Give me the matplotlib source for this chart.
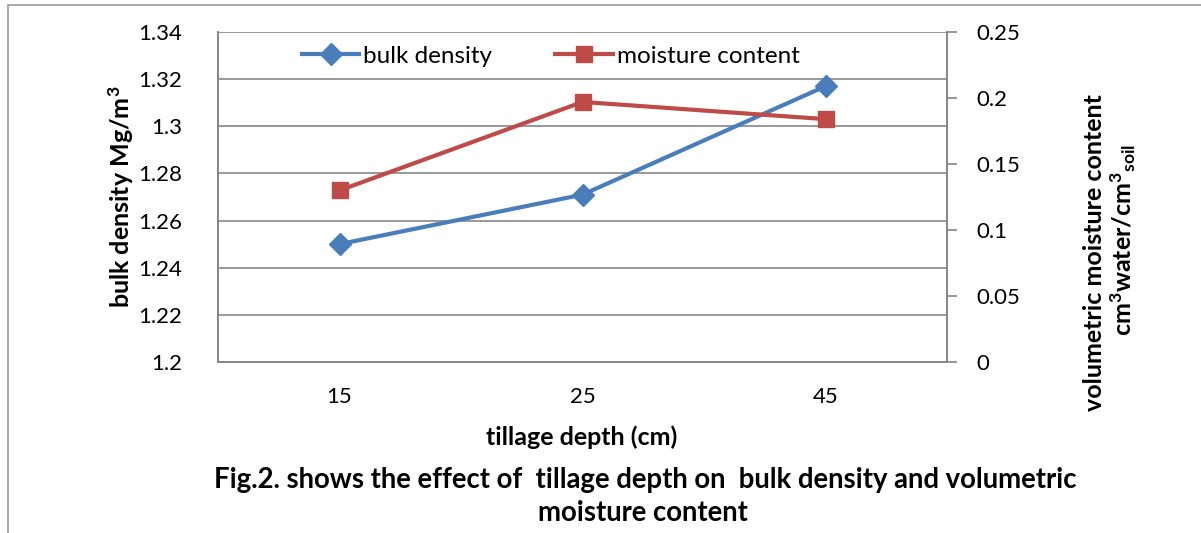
import matplotlib
matplotlib.use("Agg")
import matplotlib.pyplot as plt
from matplotlib.patches import Rectangle

plt.rcParams['font.family'] = ['Lato', 'DejaVu Sans']
plt.rcParams['mathtext.default'] = 'regular'

depths = ["15", "25", "45"]
bulk_density = [1.250, 1.271, 1.317]
moisture = [0.130, 0.197, 0.184]
left_ticks = [1.2, 1.22, 1.24, 1.26, 1.28, 1.3, 1.32, 1.34]
left_labels = ["1.2", "1.22", "1.24", "1.26", "1.28", "1.3", "1.32", "1.34"]
right_ticks = [0, 0.05, 0.1, 0.15, 0.2, 0.25]
right_labels = ["0", "0.05", "0.1", "0.15", "0.2", "0.25"]

BLUE = "#4A7EBB"
RED = "#BE4B48"
GRAY = "#868686"
W, H = 1201, 533

def fx(px):
    return px / W

def fy(py):
    return 1 - py / H

fig = plt.figure(figsize=(12.01, 5.33), dpi=100)
fig.patches.append(Rectangle((fx(8), -0.1), 1.2, fy(5) + 0.1, transform=fig.transFigure,
                             fill=False, edgecolor="#9a9a9a", linewidth=1.2))

ax = fig.add_axes([fx(218), fy(362), (947 - 218) / W, (362 - 32) / H])
ax2 = ax.twinx()

x = list(range(len(depths)))
ax.set_xlim(-0.5, len(depths) - 0.5)
ax.set_ylim(1.2, 1.34)
ax2.set_ylim(0, 0.25)

ax.set_yticks(left_ticks)
ax.set_yticklabels(left_labels, fontsize=16)
ax.tick_params(axis='y', length=0, pad=26)
ax.set_xticks(x)
ax.set_xticklabels(depths, fontsize=16)
ax.tick_params(axis='x', length=0, pad=18)
ax.grid(axis='y', color=GRAY, linewidth=1.2)
ax.set_axisbelow(True)

ax2.set_yticks(right_ticks)
ax2.set_yticklabels(right_labels, fontsize=16)
ax2.tick_params(axis='y', length=7, width=1.2, color=GRAY, pad=14, direction='out')

for a in (ax, ax2):
    for s in a.spines.values():
        s.set_color(GRAY)
        s.set_linewidth(1.2)
ax.spines['top'].set_visible(False)
ax2.spines['top'].set_visible(False)

l1, = ax.plot(x, bulk_density, color=BLUE, linewidth=3, marker='D', markersize=11.5,
              label="bulk density", zorder=3)
l2, = ax2.plot(x, moisture, color=RED, linewidth=3, marker='s', markersize=11.5,
               label="moisture content", zorder=3)

fig.legend(handles=[l1, l2], loc='center left', bbox_to_anchor=(fx(302), fy(56)), ncol=2,
           frameon=False, fontsize=17.5, handlelength=2.35, handletextpad=0.17,
           columnspacing=2.6, borderpad=0, borderaxespad=0)

fig.text(fx(121), fy(197), "bulk density Mg/m$^3$", rotation=90,
         ha='center', va='center', fontsize=18, fontweight='bold')
fig.text(fx(582), fy(437), "tillage depth (cm)",
         ha='center', va='center', fontsize=18, fontweight='bold')

fig.text(fx(1095), fy(253), "volumetric moisture content", rotation=90,
         ha='center', va='center', fontsize=18, fontweight='bold')
fig.text(fx(1123), fy(240), "cm$^3$water/cm$^3$$_{soil}$", rotation=90,
         ha='center', va='center', fontsize=18, fontweight='bold')

fig.text(fx(645), fy(480), "Fig.2. shows the effect of  tillage depth on  bulk density and volumetric",
         ha='center', va='center', fontsize=19.8, fontweight='bold')
fig.text(fx(643), fy(513), "moisture content",
         ha='center', va='center', fontsize=19.8, fontweight='bold')

fig.savefig("out.png", dpi=100)
